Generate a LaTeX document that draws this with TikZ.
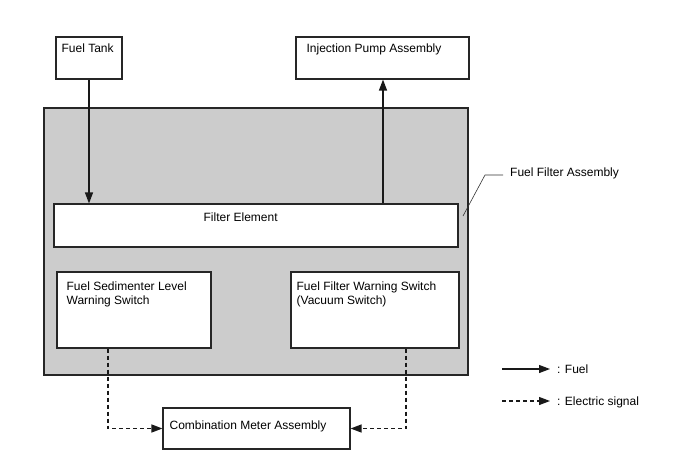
\documentclass[tikz,border=0pt]{standalone}
\usepackage{fontspec}
\setmainfont{Liberation Sans}
\usetikzlibrary{arrows.meta}
\tikzset{
box/.style={draw=black!85,line width=1.1pt,fill=white,inner sep=0pt},
txt/.style={anchor=north west,inner sep=0pt,align=left,font=\fontsize{12}{14}\selectfont},
fuel/.style={draw=black!90,line width=1.2pt,-{Triangle[length=11pt,width=8pt]}},
signal/.style={fuel,dash pattern=on 4pt off 3pt},
}

\begin{document}
\begin{tikzpicture}[x=1pt,y=-1pt,font=\fontsize{12}{14}\selectfont]
\useasboundingbox (0,0) rectangle (688,463);
\node[box,fill=black!20,minimum width=424pt,minimum height=267pt] (assembly) at (256,241.5) {};
\node[box,minimum width=66pt,minimum height=42pt,label={[txt,xshift=6pt,yshift=-7pt]north west:Fuel Tank}] (tank) at (89,58) {};
\node[box,minimum width=173pt,minimum height=42pt,label={[txt,xshift=11pt,yshift=-7pt]north west:Injection Pump Assembly}] (pump) at (382.5,58) {};
\node[box,minimum width=404pt,minimum height=43pt,label={[txt,xshift=150pt,yshift=-9.5pt]north west:Filter Element}] (filter) at (256,225.5) {};
\node[box,minimum width=154pt,minimum height=76pt,label={[txt,xshift=10pt,yshift=-10pt]north west:Fuel Sedimenter Level\\Warning Switch}] (sed) at (134,310) {};
\node[box,minimum width=168pt,minimum height=76pt,label={[txt,xshift=6pt,yshift=-10pt]north west:Fuel Filter Warning Switch\\(Vacuum Switch)}] (warn) at (375,310) {};
\node[box,minimum width=187pt,minimum height=41pt,label={[txt,xshift=7pt,yshift=-13.5pt]north west:Combination Meter Assembly}] (meter) at (256.5,428.5) {};
% fuel flow
\draw[fuel] (tank.south) -- (tank.south |- filter.north);
\draw[fuel] ([xshift=0.5pt]filter.north -| pump.south) -- ([xshift=0.5pt]pump.south);
% signals
\draw[signal] ([xshift=-26pt]sed.south) |- (meter.west);
\draw[signal] ([xshift=31pt]warn.south) |- (meter.east);
% leader
\coordinate (leadA) at (463,216);
\draw[black!80,line width=0.6pt] (leadA) -- (485,175) -- (503,175);
\node[anchor=base west,inner sep=0pt] (asmtext) at (510,176) {Fuel Filter Assembly};
% key
\coordinate (fuelkeyA) at (502,369);
\coordinate (sigkeyA) at (502,401);
\draw[fuel] (fuelkeyA) -- ++(48,0);
\draw[signal] (sigkeyA) -- ++(48,0);
\node[anchor=base west,inner sep=0pt] (fuelkey) at (557,373.5) {: Fuel};
\node[anchor=base west,inner sep=0pt] (sigkey) at (557,405.5) {: Electric signal};
\end{tikzpicture}
\end{document}
